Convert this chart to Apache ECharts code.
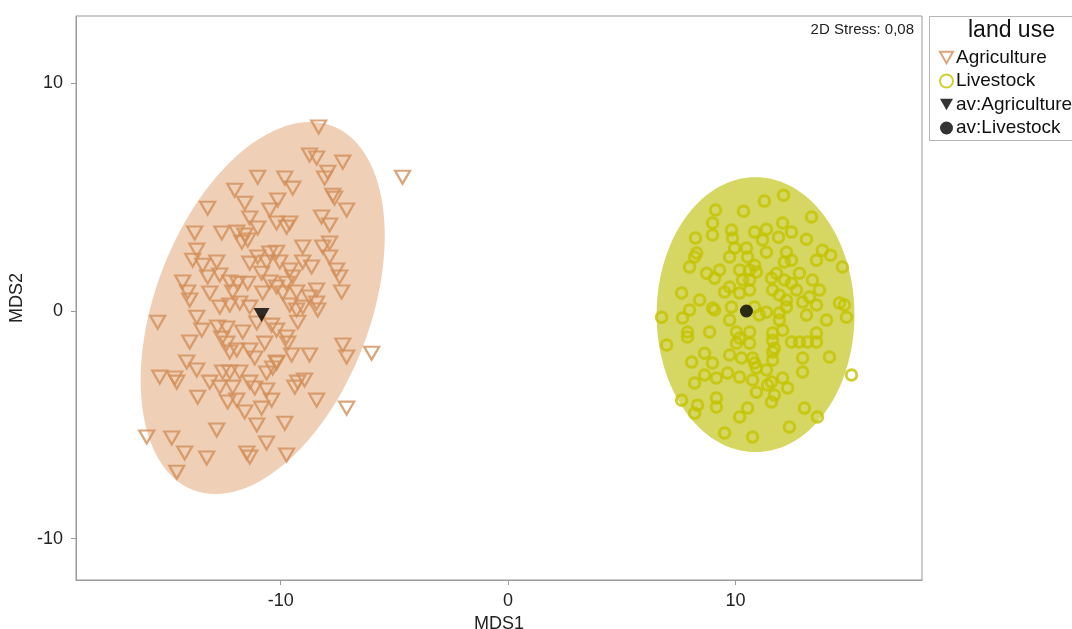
<!DOCTYPE html>
<html>
<head>
<meta charset="utf-8">
<script src="https://cdn.jsdelivr.net/npm/echarts@6/dist/echarts.min.js"></script>
<style>
html,body{margin:0;padding:0;background:#fff;}
#chart{width:1072px;height:629px;}
</style>
</head>
<body>
<div id="chart"></div>
<script>
// ---------- DATA ----------
const agriculture = [
[-8.33,8.06],[-8.73,6.83],[-8.42,6.70],[-7.27,6.52],[-7.93,6.08],[-8.07,5.82],[-4.64,5.86],[-11.01,5.86],
[-9.82,5.82],[-9.47,5.38],[-12.02,5.29],[-7.71,5.07],[-7.63,4.94],[-11.58,4.72],[-10.13,4.86],[-13.21,4.50],
[-7.10,4.42],[-10.48,4.42],[-11.36,4.07],[-8.20,4.11],[-7.85,3.76],[-10.18,3.85],[-9.60,3.85],[-9.74,3.67],
[-13.78,3.41],[-12.59,3.41],[-11.93,3.45],[-11.58,3.32],[-11.01,3.63],[-11.71,3.01],[-11.45,3.10],[-9.03,2.80],
[-8.15,2.80],[-7.85,2.97],[-13.69,2.66],[-10.48,2.53],[-10.18,2.57],[-11.01,2.36],[-11.36,2.09],[-13.87,2.22],
[-13.43,2.00],[-12.81,2.14],[-10.62,2.14],[-10.04,2.14],[-7.85,2.36],[-7.54,1.79],[-7.41,1.48],[-9.03,2.14],
[-8.64,1.92],[-9.60,1.79],[-10.84,1.65],[-13.21,1.48],[-12.68,1.57],[-12.24,1.26],[-11.89,1.21],[-11.45,1.21],
[-14.31,1.26],[-14.09,0.82],[-13.12,0.78],[-12.11,0.82],[-10.48,1.26],[-10.18,1.04],[-9.74,1.21],[-9.47,1.48],
[-10.79,0.78],[-9.91,0.78],[-9.30,0.82],[-8.42,0.91],[-7.32,0.82],[-8.73,0.60],[-12.68,0.16],[-12.24,0.25],
[-11.80,0.34],[-11.36,0.16],[-9.60,0.25],[-9.03,0.16],[-8.42,0.34],
[-14.00,0.47],[-15.41,-0.50],[-13.69,-0.28],[-13.47,-0.85],[-12.77,-0.71],[-12.37,-0.76],[-11.67,-0.93],
[-11.05,-0.54],[-10.40,-0.63],[-10.18,-0.85],[-9.74,-1.15],[-9.25,-0.50],[-9.30,0.03],[-8.37,0.03],
[-14.00,-1.37],[-12.59,-1.20],[-12.37,-1.42],[-11.36,-1.72],[-10.70,-1.42],[-9.69,-1.42],[-11.93,-1.72],
[-12.24,-1.81],[-14.13,-2.25],[-13.69,-2.60],[-11.14,-2.07],[-10.18,-2.25],[-9.52,-1.94],[-8.73,-1.94],
[-7.27,-1.50],[-7.10,-2.03],[-6.00,-1.86],[-15.32,-2.91],[-14.66,-2.95],[-14.57,-3.13],[-13.12,-3.13],
[-12.55,-2.69],[-12.24,-2.69],[-11.80,-2.69],[-12.68,-3.35],[-12.11,-3.35],[-11.36,-3.13],[-11.14,-3.39],
[-10.62,-3.48],[-10.62,-2.73],[-10.35,-2.51],[-10.18,-2.29],[-9.38,-3.35],[-9.25,-3.13],[-8.95,-3.04],
[-13.65,-3.79],[-12.33,-4.00],[-11.93,-3.92],[-11.58,-4.44],[-10.84,-4.27],[-10.40,-3.92],[-8.42,-3.92],
[-7.10,-4.27],[-12.81,-5.23],[-11.05,-5.01],[-9.82,-4.93],[-15.89,-5.54],[-14.79,-5.58],[-10.62,-5.80],
[-14.22,-6.24],[-13.25,-6.46],[-11.49,-6.24],[-11.36,-6.42],[-9.74,-6.33],[-14.57,-7.08]
];
const livestock = [
[12.11,5.07],[11.27,4.81],[9.12,4.42],[10.35,4.37],[13.34,4.11],[8.99,3.85],[8.99,3.32],[9.82,3.54],
[10.84,3.45],[11.36,3.58],[12.07,3.85],[12.46,3.45],[11.89,3.23],[11.19,3.10],[9.87,3.19],[8.24,3.19],
[13.12,3.14],[9.96,2.75],[10.48,2.75],[11.36,2.57],[12.24,2.57],[8.29,2.53],[8.20,2.36],[9.74,2.36],
[10.53,2.36],[13.82,2.66],[14.18,2.44],[13.56,2.22],[12.46,2.22],[12.15,2.14],[7.98,1.92],[10.84,2.00],
[10.62,1.79],[10.92,1.70],[8.73,1.65],[9.30,1.79],[10.18,1.79],[11.80,1.65],[12.81,1.65],[14.70,1.92],
[9.08,1.43],[10.31,1.35],[10.62,1.35],[11.58,1.43],[12.15,1.35],[12.46,1.21],[13.38,1.35],[9.74,1.04],
[9.52,0.82],[10.18,0.78],[10.62,0.91],[11.63,0.91],[11.93,0.69],[12.68,0.91],[13.69,0.91],[7.63,0.78],
[8.42,0.47],[8.99,0.12],[9.82,0.16],[10.84,0.16],[12.24,0.47],[12.95,0.38],[13.25,0.60],[14.57,0.34],
[6.75,-0.28],[7.98,0.03],[11.36,-0.06],[11.93,-0.10],
[9.08,0.03],[7.67,-0.32],[7.89,-0.93],[7.89,-1.15],[8.86,-0.93],[6.97,-1.50],[9.74,-0.41],[10.04,-0.93],
[10.18,-1.20],[10.62,-0.93],[10.62,-1.42],[11.05,-0.19],[11.63,-0.98],[12.07,-0.85],[11.93,-0.41],
[12.24,0.16],[13.12,-0.19],[13.56,0.25],[14.00,-0.41],[14.79,0.25],[14.88,-0.28],[12.46,-1.37],
[12.81,-1.37],[13.16,-1.37],[13.56,-0.98],[13.56,-1.37],[11.63,-1.29],[10.04,-1.42],[8.07,-2.25],
[8.64,-1.86],[8.99,-2.29],[9.74,-1.94],[10.26,-2.07],[10.75,-2.07],[10.84,-2.29],[10.92,-2.51],
[11.63,-2.16],[11.63,-1.81],[11.71,-1.64],[12.95,-2.07],[14.13,-2.03],[12.95,-2.69],[11.36,-2.60],
[9.16,-2.95],[8.64,-2.82],[9.65,-2.73],[10.18,-2.91],[10.75,-3.04],[8.20,-3.17],[11.41,-3.26],
[11.58,-3.13],[12.07,-2.95],[12.29,-3.39],[10.92,-3.57],[11.71,-3.70],[11.58,-4.00],[7.63,-3.92],
[8.33,-4.14],[8.20,-4.49],[9.16,-3.83],[9.16,-4.22],[10.18,-4.66],[10.53,-4.27],[13.03,-4.27],
[13.60,-4.66],[15.10,-2.82],[12.37,-5.10],[9.52,-5.36],[10.75,-5.54]
];
const avAgriculture = [[-10.84, -0.19]];
const avLivestock = [[10.48, -0.01]];
// ellipse: [centerX, centerY, semiMajor, semiMinor, angleDeg]
const ellipseAgriculture = [[-10.79, 0.12, 8.55, 4.72, 69]];
const ellipseLivestock = [[10.88, -0.17, 6.03, 4.35, 90]];
const tickValues = [-10, 0, 10];
const stressText = '2D Stress: 0,08';
const legendTitle = 'land use';

// ---------- CHART ----------
const FONT = "'Liberation Sans', Arial, sans-serif";
const chart = echarts.init(document.getElementById('chart'), null, {renderer: 'canvas'});

function ellipseRender(fill) {
  return function (params, api) {
    const cx = api.value(0), cy = api.value(1), a = api.value(2), b = api.value(3);
    const th = api.value(4) * Math.PI / 180;
    const pts = [];
    for (let i = 0; i < 120; i++) {
      const t = i / 120 * Math.PI * 2;
      const dx = a * Math.cos(t) * Math.cos(th) - b * Math.sin(t) * Math.sin(th);
      const dy = a * Math.cos(t) * Math.sin(th) + b * Math.sin(t) * Math.cos(th);
      pts.push(api.coord([cx + dx, cy + dy]));
    }
    return {type: 'polygon', shape: {points: pts}, style: {fill: fill, stroke: null}};
  };
}

const AGRI = '#D28F5A';
const LIVE = '#C3C300';
const DOWN_TRI = 'path://M0,0 L12,0 L6,10.5 Z';

chart.setOption({
  animation: false,
  backgroundColor: '#fff',
  textStyle: {fontFamily: FONT},
  grid: {left: 76, top: 16, width: 846, height: 564, show: true, borderColor: '#9a9a9a', borderWidth: 1,
         backgroundColor: 'transparent', containLabel: false, outerBoundsMode: 'none'},
  xAxis: {
    type: 'value', min: -19, max: 18.2,
    name: 'MDS1', nameLocation: 'middle', nameGap: 29,
    nameTextStyle: {fontSize: 18, color: '#222', fontFamily: FONT},
    axisLine: {show: true, onZero: false, lineStyle: {color: '#9a9a9a'}},
    axisTick: {show: true, length: 5, lineStyle: {color: '#9a9a9a'}, customValues: tickValues},
    axisLabel: {fontSize: 18, color: '#222', margin: 12, fontFamily: FONT, customValues: tickValues},
    splitLine: {show: false}
  },
  yAxis: {
    type: 'value', min: -11.81, max: 12.93,
    name: 'MDS2', nameLocation: 'middle', nameGap: 47, nameRotate: 90,
    nameTextStyle: {fontSize: 18, color: '#222', fontFamily: FONT},
    axisLine: {show: true, onZero: false, lineStyle: {color: '#9a9a9a'}},
    axisTick: {show: true, length: 5, lineStyle: {color: '#9a9a9a'}, customValues: tickValues},
    axisLabel: {fontSize: 18, color: '#222', margin: 13, fontFamily: FONT, customValues: tickValues},
    splitLine: {show: false}
  },
  legend: {
    data: [
      {name: 'Agriculture', icon: DOWN_TRI},
      {name: 'Livestock'},
      {name: 'av:Agriculture', icon: DOWN_TRI},
      {name: 'av:Livestock'}
    ],
    orient: 'vertical', left: 934, top: 43, itemGap: 4.5, itemWidth: 13, itemHeight: 13,
    textStyle: {fontSize: 19, color: '#111', fontFamily: FONT, padding: [0, 0, 0, -2]},
    selectedMode: false
  },
  graphic: [
    {type: 'rect', left: 929, top: 16, shape: {width: 150, height: 124}, style: {fill: '#fff', stroke: '#b5b5b5', lineWidth: 1}, z: -1},
    {type: 'text', left: 968, top: 19, style: {text: legendTitle, fontSize: 23, fill: '#111', fontFamily: FONT}},
    {type: 'text', right: 158, top: 22, style: {text: stressText, fontSize: 15, fill: '#222', fontFamily: FONT}}
  ],
  series: [
    {type: 'custom', name: 'ellA', data: ellipseAgriculture, renderItem: ellipseRender('#EFCFB6'), encode: {x: 0, y: 1}, z: 1, silent: true},
    {type: 'custom', name: 'ellL', data: ellipseLivestock, renderItem: ellipseRender('#D6D663'), encode: {x: 0, y: 1}, z: 1, silent: true},
    {type: 'scatter', name: 'Agriculture', data: agriculture, symbol: 'triangle', symbolRotate: 180, symbolSize: [15, 13],
     itemStyle: {color: 'rgba(255,255,255,0)', borderColor: AGRI, borderWidth: 2.2}, z: 3},
    {type: 'scatter', name: 'Livestock', data: livestock, symbol: 'circle', symbolSize: 10.5,
     itemStyle: {color: 'rgba(255,255,255,0)', borderColor: LIVE, borderWidth: 3}, z: 3},
    {type: 'scatter', name: 'av:Agriculture', data: avAgriculture, symbol: 'triangle', symbolRotate: 180, symbolSize: [16, 14],
     itemStyle: {color: '#000'}, z: 5},
    {type: 'scatter', name: 'av:Livestock', data: avLivestock, symbol: 'circle', symbolSize: 13,
     itemStyle: {color: '#000'}, z: 5}
  ]
});
</script>
</body>
</html>
